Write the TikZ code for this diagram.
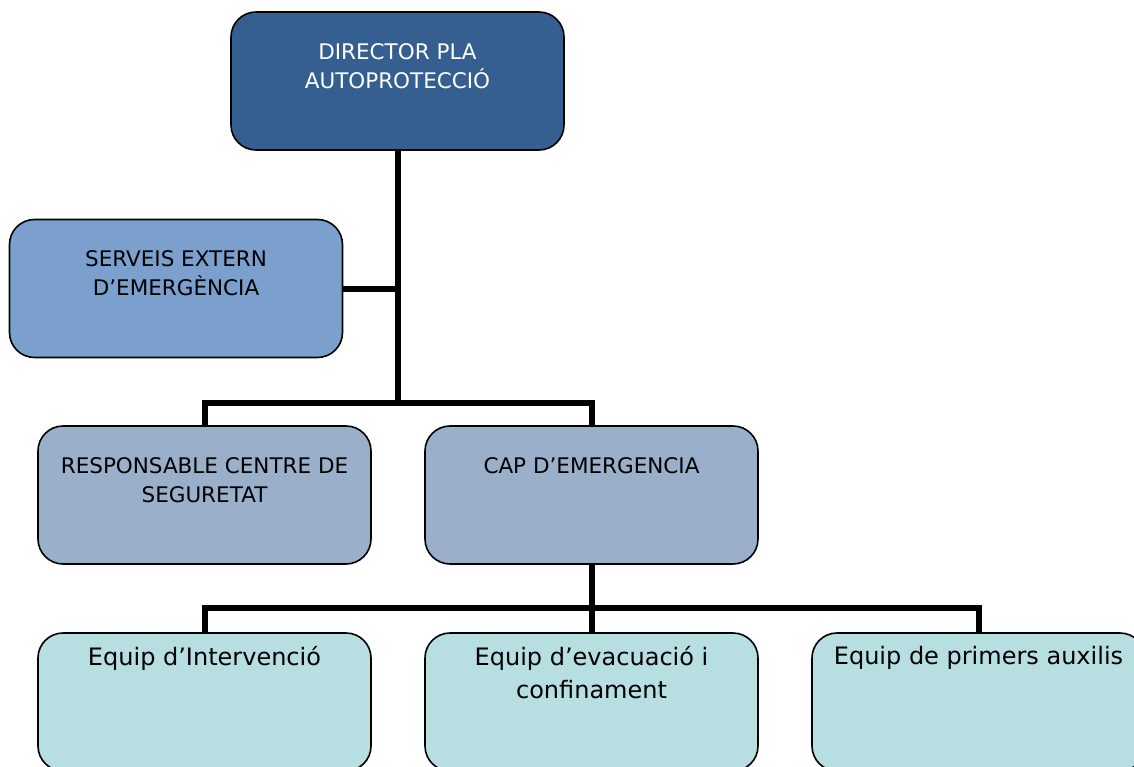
\documentclass[tikz,border=0pt]{standalone}
\usepackage{fontspec}
\setmainfont{DejaVu Sans}
\usetikzlibrary{positioning,calc}

\definecolor{dirblue}{HTML}{365F91}
\definecolor{servblue}{HTML}{7BA0CD}
\definecolor{midblue}{HTML}{9AAFC9}
\definecolor{eqteal}{HTML}{B7DEE1}

\begin{document}
\begin{tikzpicture}[x=1pt,y=-1pt,node distance=54pt,
  box/.style={draw=black,line width=1.6pt,rounded corners=25pt,minimum width=333pt,
    minimum height=138pt,inner sep=0pt,outer sep=0pt},
  top box/.style={box,fill=dirblue},
  serv box/.style={box,fill=servblue},
  mid box/.style={box,fill=midblue},
  eq box/.style={box,fill=eqteal},
  caption/.style={anchor=north,inner sep=0pt,align=center,yshift=-31pt,
    font=\fontsize{21.5}{29}\selectfont},
  eqcaption/.style={anchor=north,inner sep=0pt,align=center,yshift=-13pt,
    font=\fontsize{24}{33}\selectfont},
  conn/.style={line width=6pt,line join=miter}]

  \useasboundingbox (0,0) rectangle (1134,767);
  \clip (0,0) rectangle (1134,767);

  % boxes
  \node[top box] (dir) at (397.5,81) {};
  \node[serv box] (serv) at (176,288.5) {};
  \node[mid box] (resp) at (204.5,495) {};
  \node[mid box] (cap) [right=of resp] {};
  \node[eq box] (eqa) [below=69pt of resp] {};
  \node[eq box] (eqb) [right=of eqa] {};
  \node[eq box] (eqc) [right=of eqb] {};

  \coordinate (busa) at ($(resp.north)+(0,-23)$);
  \coordinate (busb) at ($(eqa.north)+(0,-25)$);

  % connectors
  \draw[conn] (dir.south) -- (dir.south |- busa);
  \draw[conn] (serv.east) -- (serv.east -| dir.south);
  \draw[conn] (resp.north) -- (busa) -- (busa -| cap.north) -- (cap.north);
  \draw[conn] (cap.south) -- (cap.south |- busb);
  \draw[conn] (eqa.north) -- (busb) -- (busb -| eqc.north) -- (eqc.north);
  \draw[conn] (eqb.north) -- (eqb.north |- busb);

  % texts
  \node[caption,text=white] (dirtext) at (dir.north) {DIRECTOR PLA\\AUTOPROTECCIÓ};
  \node[caption] (servtext) at (serv.north) {SERVEIS EXTERN\\D’EMERGÈNCIA};
  \node[caption] (resptext) at (resp.north) {RESPONSABLE CENTRE DE\\SEGURETAT};
  \node[caption] (captext) at (cap.north) {CAP D’EMERGENCIA};
  \node[eqcaption] (eqatext) at (eqa.north) {Equip d’Intervenció};
  \node[eqcaption] (eqbtext) at (eqb.north) {Equip d’evacuació i\\confinament};
  \node[eqcaption] (eqctext) at (eqc.north) {Equip de primers auxilis};

\end{tikzpicture}
\end{document}
